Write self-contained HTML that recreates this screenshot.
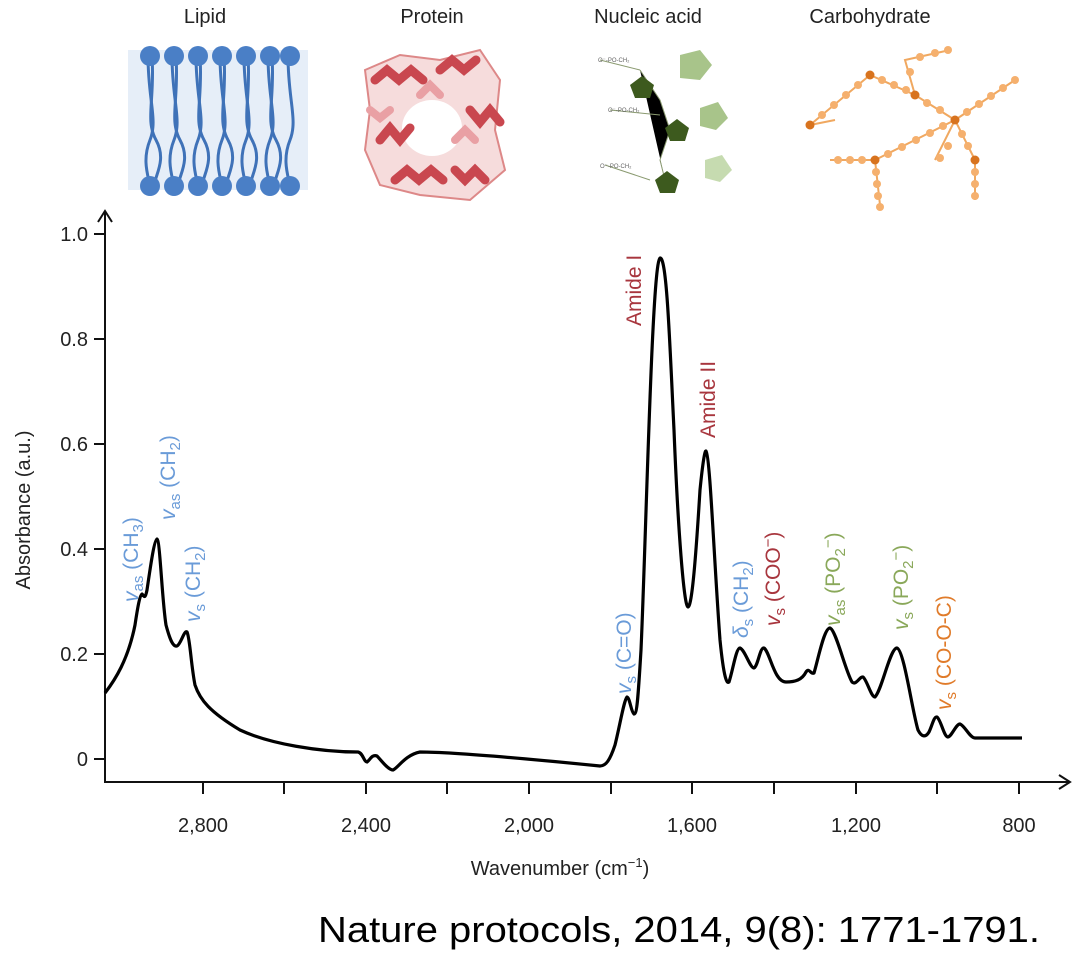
<!DOCTYPE html>
<html><head><meta charset="utf-8"><style>
body{margin:0;background:#fff;}
svg{display:block;font-family:"Liberation Sans",sans-serif;}
</style></head><body>
<svg width="1079" height="968" viewBox="0 0 1079 968" xmlns="http://www.w3.org/2000/svg">
<!-- titles -->
<g font-size="20" fill="#222" text-anchor="middle">
<text x="205" y="23">Lipid</text>
<text x="432" y="23">Protein</text>
<text x="648" y="23">Nucleic acid</text>
<text x="870" y="23">Carbohydrate</text>
</g>
<!-- lipid -->
<g>
<rect x="128" y="50" width="180" height="140" fill="#e6eef8"/>
<g stroke="#3f72b8" stroke-width="3" fill="none">
<path d="M148 56 C148 100,158 120,150 140 S148 175,150 186"/><path d="M152 56 C155 100,145 120,156 140 S155 175,154 186"/>
<path d="M172 56 C172 100,182 120,174 140 S172 175,174 186"/><path d="M176 56 C179 100,169 120,180 140 S179 175,178 186"/>
<path d="M196 56 C196 100,206 120,198 140 S196 175,198 186"/><path d="M200 56 C203 100,193 120,204 140 S203 175,202 186"/>
<path d="M220 56 C220 100,230 120,222 140 S220 175,222 186"/><path d="M224 56 C227 100,217 120,228 140 S227 175,226 186"/>
<path d="M244 56 C244 100,254 120,246 140 S244 175,246 186"/><path d="M248 56 C251 100,241 120,252 140 S251 175,250 186"/>
<path d="M268 56 C268 100,278 120,270 140 S268 175,270 186"/><path d="M272 56 C275 100,265 120,276 140 S275 175,274 186"/>
<path d="M288 56 C288 100,298 120,290 140 S288 175,290 186"/>
</g>
<g fill="#4a7fc6">
<circle cx="150" cy="56" r="10"/><circle cx="174" cy="56" r="10"/><circle cx="198" cy="56" r="10"/><circle cx="222" cy="56" r="10"/><circle cx="246" cy="56" r="10"/><circle cx="270" cy="56" r="10"/><circle cx="290" cy="56" r="10"/>
<circle cx="150" cy="186" r="10"/><circle cx="174" cy="186" r="10"/><circle cx="198" cy="186" r="10"/><circle cx="222" cy="186" r="10"/><circle cx="246" cy="186" r="10"/><circle cx="270" cy="186" r="10"/><circle cx="290" cy="186" r="10"/>
</g>
</g>
<!-- protein -->
<g fill="none" stroke-linecap="round">
<path d="M365 70 L400 55 L440 60 L480 50 L500 80 L495 130 L505 170 L470 200 L420 195 L380 185 L365 150 L370 110 Z" fill="#f6dcdc" stroke="#d88" stroke-width="2"/>
<ellipse cx="432" cy="128" rx="30" ry="28" fill="#fff"/>
<g stroke="#c9474f" stroke-width="9">
<path d="M375 80 l12 -10 l12 10 l12 -10 l12 10"/><path d="M440 70 l12 -10 l12 10 l12 -10"/>
<path d="M380 140 l10 -12 l10 12 l10 -12"/><path d="M470 110 l10 12 l10 -12 l10 12"/>
<path d="M395 180 l12 -10 l12 10 l12 -10 l12 10"/><path d="M455 170 l10 10 l10 -10 l10 10"/>
</g>
<g stroke="#e9a0a4" stroke-width="8"><path d="M420 95 l10 -10 l10 10"/><path d="M455 140 l10 -10 l10 10"/><path d="M370 110 l10 8 l10 -8"/></g>
</g>
<!-- nucleic acid -->
<g>
<g stroke="#8a9a70" stroke-width="1"><path d="M600 60 L640 70 M610 110 L660 115 M605 165 L650 180 M640 70 L660 100 L670 130 L660 160 L665 180"/></g>
<polygon points="630,85 642,76 654,85 650,98 635,98" fill="#3d5a1e"/>
<polygon points="665,128 677,119 689,128 685,141 670,141" fill="#3d5a1e"/>
<polygon points="655,180 667,171 679,180 675,193 660,193" fill="#3d5a1e"/>
<polygon points="680,55 700,50 712,65 700,80 680,78" fill="#a8c48a"/>
<polygon points="700,108 718,102 728,118 716,130 700,126" fill="#a8c48a"/>
<polygon points="705,160 722,155 732,170 720,182 705,178" fill="#c6dbb0"/>
<g font-size="6" fill="#666"><text x="598" y="62">O⁻-PO-CH₂</text><text x="608" y="112">O⁻-PO-CH₂</text><text x="600" y="168">O⁻-PO-CH₂</text></g>
</g>
<!-- carbohydrate -->
<g stroke="#f0a860" stroke-width="2" fill="none">
<path d="M810 125 L870 75 L915 95 L955 120 L1015 80"/><path d="M830 160 L875 160 L955 120 L975 160 L975 200"/><path d="M875 160 L880 205"/><path d="M810 125 L835 120"/><path d="M915 95 L905 60 L950 50"/><path d="M955 120 L935 160"/>
</g>
<g fill="#f5b06e">
<circle cx="822" cy="115" r="4"/><circle cx="834" cy="105" r="4"/><circle cx="846" cy="95" r="4"/><circle cx="858" cy="85" r="4"/><circle cx="882" cy="80" r="4"/><circle cx="894" cy="85" r="4"/><circle cx="906" cy="90" r="4"/><circle cx="927" cy="103" r="4"/><circle cx="940" cy="110" r="4"/><circle cx="967" cy="112" r="4"/><circle cx="979" cy="104" r="4"/><circle cx="991" cy="96" r="4"/><circle cx="1003" cy="88" r="4"/><circle cx="1015" cy="80" r="4"/>
<circle cx="838" cy="160" r="4"/><circle cx="850" cy="160" r="4"/><circle cx="862" cy="160" r="4"/><circle cx="888" cy="154" r="4"/><circle cx="902" cy="147" r="4"/><circle cx="916" cy="140" r="4"/><circle cx="930" cy="133" r="4"/><circle cx="943" cy="126" r="4"/>
<circle cx="876" cy="172" r="4"/><circle cx="877" cy="184" r="4"/><circle cx="878" cy="196" r="4"/><circle cx="880" cy="207" r="4"/>
<circle cx="962" cy="134" r="4"/><circle cx="968" cy="146" r="4"/><circle cx="975" cy="172" r="4"/><circle cx="975" cy="184" r="4"/><circle cx="975" cy="196" r="4"/>
<circle cx="910" cy="72" r="4"/><circle cx="920" cy="57" r="4"/><circle cx="935" cy="53" r="4"/><circle cx="948" cy="50" r="4"/><circle cx="948" cy="146" r="4"/><circle cx="940" cy="158" r="4"/>
</g>
<g fill="#d8731e"><circle cx="810" cy="125" r="4.5"/><circle cx="870" cy="75" r="4.5"/><circle cx="915" cy="95" r="4.5"/><circle cx="955" cy="120" r="4.5"/><circle cx="875" cy="160" r="4.5"/><circle cx="975" cy="160" r="4.5"/></g>

<!-- axes -->
<g stroke="#111" stroke-width="2" fill="none">
<path d="M105 782 V212"/><path d="M98 222 L105 211 L112 222"/>
<path d="M104 782 H1070"/><path d="M1059 775 L1070 782 L1059 789"/>
<path d="M94 234 H105 M94 339 H105 M94 444 H105 M94 549 H105 M94 654 H105 M94 759 H105"/>
<path d="M203 782 V794 M284 782 V794 M366 782 V794 M447 782 V794 M529 782 V794 M611 782 V794 M692 782 V794 M774 782 V794 M856 782 V794 M937 782 V794 M1019 782 V794"/>
</g>
<g font-size="20" fill="#222" text-anchor="end">
<text x="88" y="241">1.0</text><text x="88" y="346">0.8</text><text x="88" y="451">0.6</text><text x="88" y="556">0.4</text><text x="88" y="661">0.2</text><text x="88" y="766">0</text>
</g>
<g font-size="20" fill="#222" text-anchor="middle">
<text x="203" y="832">2,800</text><text x="366" y="832">2,400</text><text x="529" y="832">2,000</text><text x="692" y="832">1,600</text><text x="856" y="832">1,200</text><text x="1019" y="832">800</text>
<text x="560" y="875">Wavenumber (cm<tspan dy="-8" font-size="13">−1</tspan><tspan dy="8">)</tspan></text>
</g>
<text transform="translate(30,510) rotate(-90)" font-size="20" fill="#222" text-anchor="middle">Absorbance (a.u.)</text>

<!-- curve -->
<path fill="none" stroke="#000" stroke-width="3.2" stroke-linejoin="round" d="M105 693 C115 680,128 660,135 625 C138 605,140 595,142 594 C144 596,145 600,147 590 C150 570,154 540,157 539 C160 540,162 600,166 625 C170 640,173 647,177 646 C181 644,184 630,187 632 C190 638,191 665,195 685 C200 700,210 712,240 730 C270 744,320 752,358 752 C363 753,364 762,367 762 C370 760,372 754,377 756 C381 760,388 770,393 770 C398 768,405 755,420 752 C460 752,560 762,600 766 C606 766,610 760,615 745 C620 725,624 700,627 697 C630 698,631 712,634 714 C637 714,638 700,641 650 C646 540,652 262,660 258 C667 256,670 350,674 430 C678 530,684 607,688 607 C692 607,696 555,700 490 C703 460,705 450,706 451 C710 455,714 560,720 640 C724 680,727 684,729 682 C733 670,736 648,740 648 C745 650,750 668,754 668 C758 666,760 647,764 648 C770 652,774 682,786 682 C795 682,802 680,806 672 C809 667,811 675,814 673 C818 660,824 628,830 628 C836 630,845 670,852 682 C856 686,860 676,863 677 C867 680,871 697,875 697 C882 690,890 648,897 648 C904 650,912 710,918 730 C922 738,926 737,929 732 C932 726,934 716,937 717 C941 720,944 737,948 737 C952 736,956 724,960 724 C965 726,970 738,975 738 L1022 738"/>

<!-- labels -->
<g font-size="21">
<text transform="translate(138,602) rotate(-90)" fill="#6a9bd8"><tspan font-style="italic">v</tspan><tspan font-size="15" dy="5">as</tspan><tspan dy="-5"> (CH</tspan><tspan font-size="15" dy="5">3</tspan><tspan dy="-5">)</tspan></text>
<text transform="translate(175,520) rotate(-90)" fill="#6a9bd8"><tspan font-style="italic">v</tspan><tspan font-size="15" dy="5">as</tspan><tspan dy="-5"> (CH</tspan><tspan font-size="15" dy="5">2</tspan><tspan dy="-5">)</tspan></text>
<text transform="translate(200,622) rotate(-90)" fill="#6a9bd8"><tspan font-style="italic">v</tspan><tspan font-size="15" dy="5">s</tspan><tspan dy="-5"> (CH</tspan><tspan font-size="15" dy="5">2</tspan><tspan dy="-5">)</tspan></text>
<text transform="translate(631,694) rotate(-90)" fill="#6a9bd8"><tspan font-style="italic">v</tspan><tspan font-size="15" dy="5">s</tspan><tspan dy="-5"> (C=O)</tspan></text>
<text transform="translate(641,326) rotate(-90)" fill="#a8363e">Amide I</text>
<text transform="translate(715,438) rotate(-90)" fill="#a8363e">Amide II</text>
<text transform="translate(748,638) rotate(-90)" fill="#6a9bd8"><tspan font-style="italic">δ</tspan><tspan font-size="15" dy="5">s</tspan><tspan dy="-5"> (CH</tspan><tspan font-size="15" dy="5">2</tspan><tspan dy="-5">)</tspan></text>
<text transform="translate(780,626) rotate(-90)" fill="#a8363e"><tspan font-style="italic">v</tspan><tspan font-size="15" dy="5">s</tspan><tspan dy="-5"> (COO</tspan><tspan font-size="15" dy="-7">−</tspan><tspan dy="7">)</tspan></text>
<text transform="translate(840,626) rotate(-90)" fill="#8aa85a"><tspan font-style="italic">v</tspan><tspan font-size="15" dy="5">as</tspan><tspan dy="-5"> (PO</tspan><tspan font-size="15" dy="5">2</tspan><tspan font-size="15" dy="-12">−</tspan><tspan dy="7">)</tspan></text>
<text transform="translate(908,630) rotate(-90)" fill="#8aa85a"><tspan font-style="italic">v</tspan><tspan font-size="15" dy="5">s</tspan><tspan dy="-5"> (PO</tspan><tspan font-size="15" dy="5">2</tspan><tspan font-size="15" dy="-12">−</tspan><tspan dy="7">)</tspan></text>
<text transform="translate(951,710) rotate(-90)" fill="#e07b2a"><tspan font-style="italic">v</tspan><tspan font-size="15" dy="5">s</tspan><tspan dy="-5"> (CO-O-C)</tspan></text>
</g>

<text x="318" y="942" font-size="36" fill="#000" font-family="'Liberation Sans',sans-serif" textLength="722" lengthAdjust="spacingAndGlyphs">Nature protocols, 2014, 9(8): 1771-1791.</text>
</svg>
</body></html>
